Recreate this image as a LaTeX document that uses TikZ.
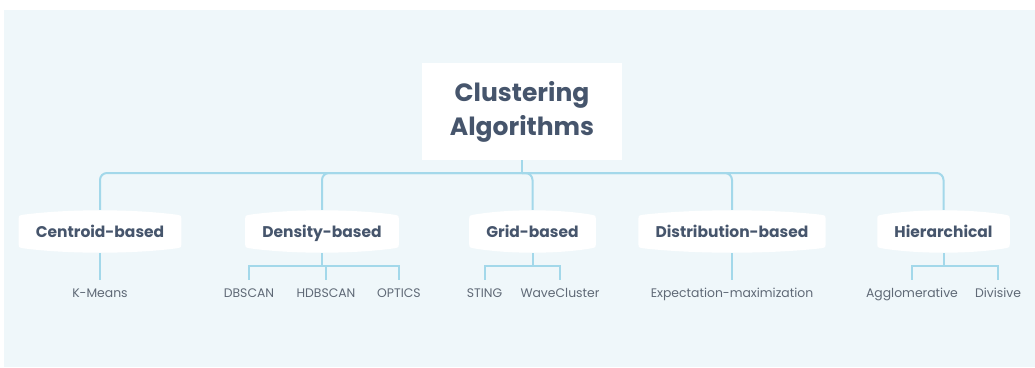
\documentclass[tikz,border=0pt]{standalone}
\usepackage{fontspec}
\setmainfont{Poppins}
\usetikzlibrary{backgrounds,calc}
\definecolor{bgc}{RGB}{239,247,250}
\definecolor{linec}{RGB}{163,216,234}
\definecolor{darkt}{RGB}{70,85,108}
\definecolor{leaft}{RGB}{95,105,118}
\tikzset{
  conn/.style={draw=linec, line width=2pt},
  titlebox/.style={fill=white, minimum width=200pt, minimum height=97pt, align=center,
    text=darkt, font=\fontsize{25}{34}\selectfont\bfseries, inner sep=0pt},
  catnode/.style={font=\fontsize{15.5}{18}\selectfont\bfseries, text=darkt,
    minimum height=43pt, inner xsep=17pt, inner ysep=0pt, text height=13pt, text depth=2pt},
  leafnode/.style={font=\fontsize{12.4}{14}\selectfont, text=leaft, text height=9pt,
    text depth=3pt, inner xsep=0pt, inner ysep=8pt},
}
\newcommand\barrelfill[1]{%
  \begin{pgfonlayer}{background}
  \fill[white] let \p1=(#1.north west), \p2=(#1.south east), \n1={0.3*(\x2-\x1)} in
    (\x1,\y2+9pt) -- (\x1,\y1-9pt)
    .. controls (\x1,\y1-6pt) .. (\x1+4pt,\y1-5pt)
    .. controls (\x1+\n1,\y1+1pt) and (\x2-\n1,\y1+1pt) .. (\x2-4pt,\y1-5pt)
    .. controls (\x2,\y1-6pt) .. (\x2,\y1-9pt)
    -- (\x2,\y2+9pt)
    .. controls (\x2,\y2+6pt) .. (\x2-4pt,\y2+5pt)
    .. controls (\x2-\n1,\y2-1pt) and (\x1+\n1,\y2-1pt) .. (\x1+4pt,\y2+5pt)
    .. controls (\x1,\y2+6pt) .. (\x1,\y2+9pt) -- cycle;
  \end{pgfonlayer}}
\begin{document}
\begin{tikzpicture}[x=1pt,y=-1pt]
\useasboundingbox (0,0) rectangle (1035,367);
\begin{pgfonlayer}{background}
\fill[bgc] (4,10) rectangle (1035,367);
\end{pgfonlayer}

\node[titlebox] (root) at (522,111.5) {Clustering\\Algorithms};

\node[catnode] (cen)  at (100,231.5) {Centroid-based};
\node[catnode] (den)  at (322,231.5) {Density-based};
\node[catnode] (grid) at (532.5,231.5) {Grid-based};
\node[catnode] (dist) at (732,231.5) {Distribution-based};
\node[catnode] (hier) at (943.5,231.5) {Hierarchical};
\barrelfill{cen}\barrelfill{den}\barrelfill{grid}\barrelfill{dist}\barrelfill{hier}

\node[leafnode] (km)  at (100,294) {K-Means};
\node[leafnode] (db)  at (249,294) {DBSCAN};
\node[leafnode] (hdb) at (326,294) {HDBSCAN};
\node[leafnode] (op)  at (399,294) {OPTICS};
\node[leafnode] (st)  at (484.5,294) {STING};
\node[leafnode] (wc)  at (560,294) {WaveCluster};
\node[leafnode] (em)  at (732,294) {Expectation-maximization};
\node[leafnode] (ag)  at (912,294) {Agglomerative};
\node[leafnode] (dv)  at (998,294) {Divisive};

\coordinate (bus) at (522,173);
\draw[conn] (root.south) -- (bus);
\foreach \n in {cen,den,grid,dist,hier}
  \draw[conn, rounded corners=7pt] (bus) -| (\n.north);

\draw[conn] (cen.south) -- (km.north);
\draw[conn] (dist.south) -- (em.north);

\coordinate (dbar) at (322,266);
\draw[conn] (den.south) -- (dbar);
\draw[conn] (db.north) |- (op.north |- dbar) -- (op.north);
\draw[conn] (dbar) -| (hdb.north);

\coordinate (gbar) at (532.5,266);
\draw[conn] (grid.south) -- (gbar);
\draw[conn] (st.north) |- (wc.north |- gbar) -- (wc.north);

\coordinate (hbar) at (943.5,266);
\draw[conn] (hier.south) -- (hbar);
\draw[conn] (ag.north) |- (dv.north |- hbar) -- (dv.north);
\end{tikzpicture}
\end{document}
